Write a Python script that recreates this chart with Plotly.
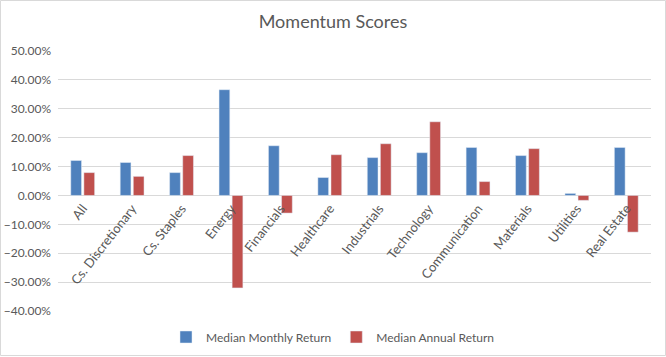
import plotly.graph_objects as go

categories = ["All", "Cs. Discretionary", "Cs. Staples", "Energy", "Financials", "Healthcare",
              "Industrials", "Technology", "Communication", "Materials", "Utilities", "Real Estate"]
monthly = [0.121, 0.114, 0.079, 0.366, 0.172, 0.062, 0.131, 0.148, 0.166, 0.138, 0.007, 0.166]
annual = [0.079, 0.066, 0.138, -0.320, -0.061, 0.141, 0.179, 0.255, 0.048, 0.162, -0.017, -0.127]
y_ticks = [0.5, 0.4, 0.3, 0.2, 0.1, 0.0, -0.1, -0.2, -0.3, -0.4]
y_min, y_max = -0.4, 0.5

W, H = 666, 357
ML, MR, MT, MB = 58, 15, 51, 46
FONT = "Lato, Open Sans, sans-serif"
GREY = "#595959"

fig = go.Figure()
fig.add_trace(go.Bar(name="Median Monthly Return", x=categories, y=monthly, marker_color="#4F81BD"))
fig.add_trace(go.Bar(name="Median Annual Return", x=categories, y=annual, marker_color="#C0504D"))

pw = W - ML - MR
ph = H - MT - MB
fig.add_shape(type="rect", xref="paper", yref="paper",
              x0=(0.5 - ML) / pw, x1=(W - 0.5 - ML) / pw,
              y0=-(MB - 1.5) / ph, y1=1 + (MT - 0.5) / ph,
              line=dict(color="#D9D9D9", width=1), fillcolor="rgba(0,0,0,0)", layer="below")

fig.update_layout(
    width=W, height=H,
    margin=dict(l=ML, r=MR, t=MT, b=MB, autoexpand=False),
    paper_bgcolor="white", plot_bgcolor="white",
    title=dict(text="Momentum Scores", x=0.5, xref="container", xanchor="center",
               y=1 - 21.5 / H, yref="container", yanchor="middle",
               font=dict(family=FONT, size=18, color=GREY)),
    barmode="group", bargap=0.47, bargroupgap=0.18,
    showlegend=True,
    legend=dict(orientation="h", xref="container", x=0.5, xanchor="center",
                yref="container", y=20 / H, yanchor="middle",
                font=dict(family=FONT, size=12, color=GREY), itemwidth=30),
    xaxis=dict(anchor="free", position=(0 - y_min) / (y_max - y_min),
               tickangle=-52, ticks="", showgrid=False, zeroline=False, showline=False,
               automargin=False, ticklabelstandoff=2,
               tickfont=dict(family=FONT, size=13, color=GREY)),
    yaxis=dict(range=[y_min, y_max], tickvals=y_ticks, tickformat=".2%",
               showgrid=True, gridcolor="#D9D9D9", gridwidth=1,
               zeroline=True, zerolinecolor="#D9D9D9", zerolinewidth=1, automargin=False,
               tickfont=dict(family=FONT, size=12, color=GREY), ticklabelstandoff=6),
)

fig.write_html("out.html", config={"displayModeBar": False},
               post_script="document.body.style.margin='0';")
